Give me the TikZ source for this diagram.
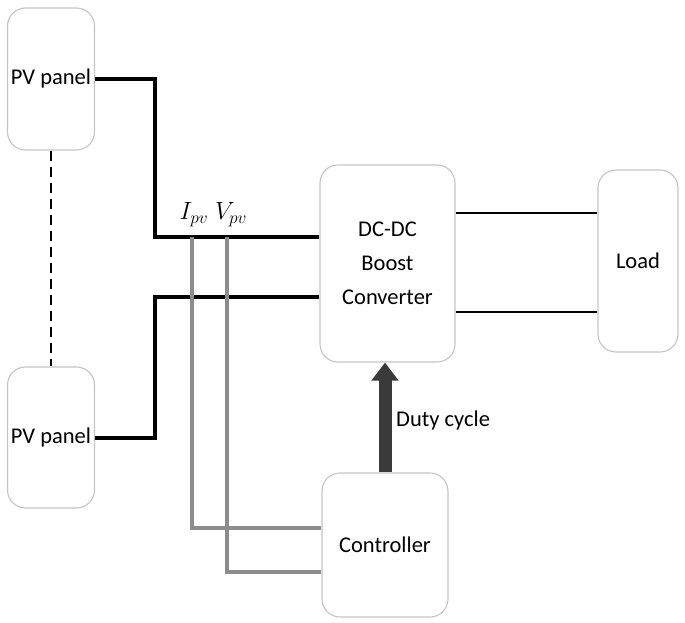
\documentclass[tikz,border=0pt]{standalone}
\usepackage{fontspec}
\setmainfont{Carlito}
\usetikzlibrary{arrows.meta,positioning}
\definecolor{boxgray}{HTML}{C4C4C4}
\definecolor{sensegray}{HTML}{8C8C8C}
\definecolor{dutygray}{HTML}{3A3A3A}

\begin{document}
\begin{tikzpicture}[
  x=1pt, y=-1pt, line cap=butt, line join=miter,
  blk/.style   ={draw=boxgray, line width=1.1pt, rounded corners=18pt, align=center,
                 inner sep=0pt, font=\fontsize{22.5}{34}\selectfont},
  pwr/.style   ={black, line width=4pt},
  outln/.style ={black, line width=2.4pt},
  sense/.style ={sensegray, line width=3.6pt},
  duty/.style  ={dutygray, line width=13pt, -{Triangle[width=26pt,length=18pt]}},
  lbl/.style   ={font=\fontsize{22.5}{26}\selectfont, inner sep=0pt},
  mlbl/.style  ={font=\fontsize{25}{28}\selectfont, inner sep=0pt}
]
\useasboundingbox (0,0) rectangle (685,623);

% --- blocks ------------------------------------------------------------
\node[blk, minimum width=87pt, minimum height=142pt] (pvtop) at (51,79)    {PV panel};
\node[blk, minimum width=87pt, minimum height=141pt] (pvbot) at (51,437.5) {PV panel};
\node[blk, minimum width=135pt, minimum height=197pt] (conv) at (387.5,263.5)
  {DC-DC\\Boost\\Converter};
\node[blk, minimum width=80pt, minimum height=182pt] (load) at (638,261)   {Load};
\node[blk, minimum width=126pt, minimum height=144pt] (ctrl) at (385,545)  {Controller};

% junctions of the panel feeders
\coordinate (jtop) at (155,237);
\coordinate (jbot) at (155,297);
\coordinate (ipv)  at (192,237);
\coordinate (vpv)  at (227,237);

% --- panel string (dashed) ---------------------------------------------
\draw[black, line width=2pt, dash pattern=on 10pt off 6pt] (pvtop.south) -- (pvbot.north);

% --- power lines --------------------------------------------------------
\draw[pwr] (pvtop.east) -| (jtop) -- (jtop -| conv.west);
\draw[pwr] (pvbot.east) -| (jbot) -- (jbot -| conv.west);
\draw[outln] (conv.east |- 0,213) -- (load.west |- 0,213);
\draw[outln] (conv.east |- 0,312) -- (load.west |- 0,312);

% --- measured signals ----------------------------------------------------
\draw[sense] (ipv) |- (ctrl.west |- 0,528);
\draw[sense] (vpv) |- (ctrl.west |- 0,572);
\node[mlbl] (ipvlbl) at (194,215) {$I_{pv}$};
\node[mlbl] (vpvlbl) at (231,215) {$V_{pv}$};

% --- duty cycle command --------------------------------------------------
\draw[duty] (ctrl.north) -- (ctrl.north |- conv.south);
\node[lbl, anchor=west] (dutylbl) at (396,420) {Duty cycle};

\end{tikzpicture}
\end{document}
